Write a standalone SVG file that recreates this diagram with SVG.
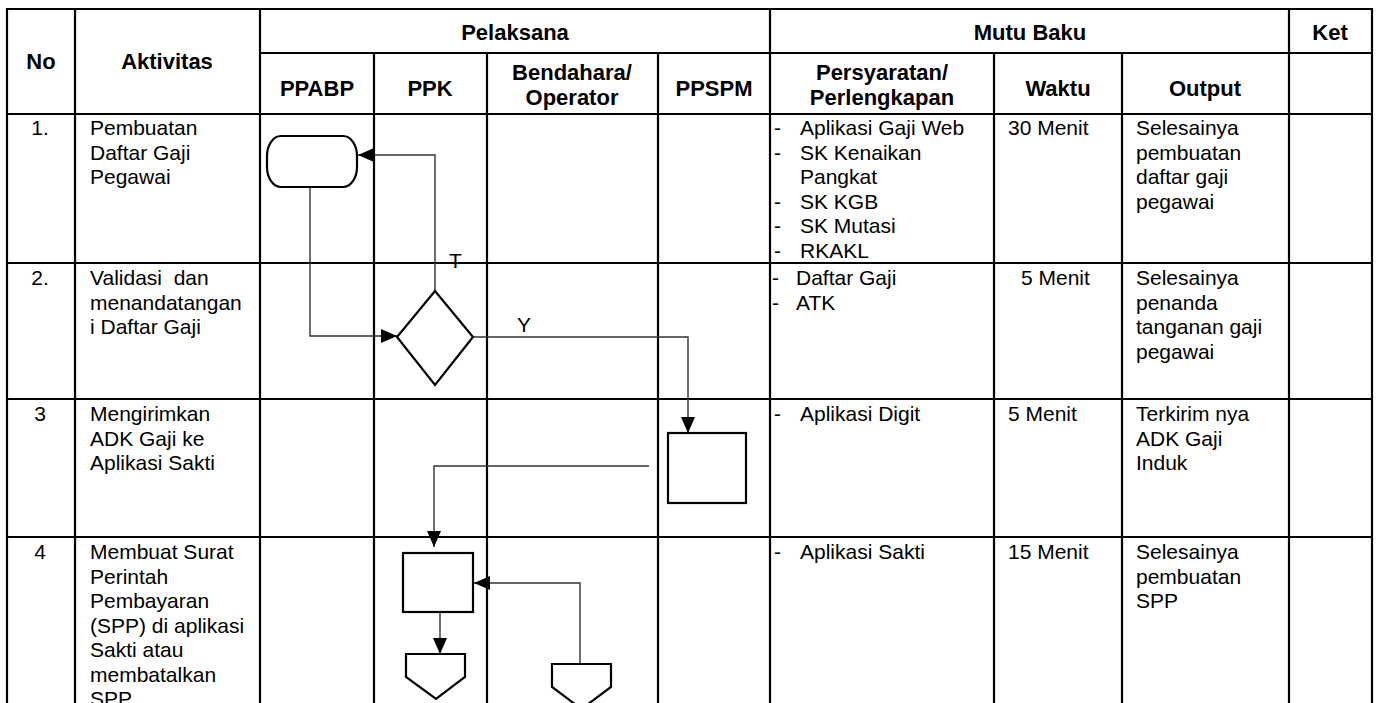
<svg xmlns="http://www.w3.org/2000/svg" width="1378" height="703" viewBox="0 0 1378 703">
<style>
.grid line{stroke:#000;stroke-width:2.2}
text{font-family:"Liberation Sans",Arial,sans-serif;fill:#000}
.h{font-size:22px;font-weight:bold;text-anchor:middle}
.b{font-size:21px}
.c{text-anchor:middle}
.shape{fill:#fff;stroke:#000;stroke-width:2.2}
.con{fill:none;stroke:#333;stroke-width:1.4}
.lbl{font-size:21px}
</style>
<defs>
<marker id="arr" markerUnits="userSpaceOnUse" markerWidth="17" markerHeight="15" refX="16" refY="7" orient="auto">
<path d="M0,0 L16,7 L0,14 z" fill="#000"/>
</marker>
</defs>
<rect width="1378" height="703" fill="#fff"/>
<g id="table" class="grid">
<line x1="6" y1="9" x2="1373" y2="9"/>
<line x1="260" y1="53" x2="1373" y2="53"/>
<line x1="6" y1="114" x2="1373" y2="114"/>
<line x1="6" y1="263" x2="1373" y2="263"/>
<line x1="6" y1="399" x2="1373" y2="399"/>
<line x1="6" y1="537" x2="1373" y2="537"/>
<line x1="7" y1="8" x2="7" y2="703"/>
<line x1="75" y1="8" x2="75" y2="703"/>
<line x1="260" y1="8" x2="260" y2="703"/>
<line x1="374" y1="53" x2="374" y2="703"/>
<line x1="487" y1="53" x2="487" y2="703"/>
<line x1="658" y1="53" x2="658" y2="703"/>
<line x1="770" y1="8" x2="770" y2="703"/>
<line x1="994" y1="53" x2="994" y2="703"/>
<line x1="1122" y1="53" x2="1122" y2="703"/>
<line x1="1289" y1="8" x2="1289" y2="703"/>
<line x1="1372" y1="8" x2="1372" y2="703"/>
</g>
<g id="header">
<text class="h" x="41" y="69">No</text>
<text class="h" x="167" y="69">Aktivitas</text>
<text class="h" x="515" y="40">Pelaksana</text>
<text class="h" x="1030" y="40">Mutu Baku</text>
<text class="h" x="1330" y="40">Ket</text>
<text class="h" x="317" y="96">PPABP</text>
<text class="h" x="430" y="96">PPK</text>
<text class="h" x="572" y="80">Bendahara/</text>
<text class="h" x="572" y="105">Operator</text>
<text class="h" x="714" y="96">PPSPM</text>
<text class="h" x="882" y="80">Persyaratan/</text>
<text class="h" x="882" y="105">Perlengkapan</text>
<text class="h" x="1058" y="96">Waktu</text>
<text class="h" x="1205" y="96">Output</text>
</g>
<g id="row1" class="b">
<text class="c" x="40" y="135">1.</text>
<text x="90" y="135">Pembuatan</text>
<text x="90" y="159.5">Daftar Gaji</text>
<text x="90" y="184">Pegawai</text>
<text x="774" y="135">-</text>
<text x="800" y="135">Aplikasi Gaji Web</text>
<text x="774" y="159.5">-</text>
<text x="800" y="159.5">SK Kenaikan</text>
<text x="800" y="184">Pangkat</text>
<text x="774" y="208.5">-</text>
<text x="800" y="208.5">SK KGB</text>
<text x="774" y="233">-</text>
<text x="800" y="233">SK Mutasi</text>
<text x="774" y="257.5">-</text>
<text x="800" y="257.5">RKAKL</text>
<text x="1008" y="135">30 Menit</text>
<text x="1136" y="135">Selesainya</text>
<text x="1136" y="159.5">pembuatan</text>
<text x="1136" y="184">daftar gaji</text>
<text x="1136" y="208.5">pegawai</text>
</g>
<g id="row2" class="b">
<text class="c" x="40" y="285">2.</text>
<text x="90" y="285" xml:space="preserve">Validasi  dan</text>
<text x="90" y="309.5">menandatangan</text>
<text x="90" y="334">i Daftar Gaji</text>
<text x="772" y="285">-</text>
<text x="796" y="285">Daftar Gaji</text>
<text x="772" y="309.5">-</text>
<text x="796" y="309.5">ATK</text>
<text x="1021" y="285">5 Menit</text>
<text x="1136" y="285">Selesainya</text>
<text x="1136" y="309.5">penanda</text>
<text x="1136" y="334">tanganan gaji</text>
<text x="1136" y="358.5">pegawai</text>
</g>
<g id="row3" class="b">
<text class="c" x="40" y="421">3</text>
<text x="90" y="421">Mengirimkan</text>
<text x="90" y="445.5">ADK Gaji ke</text>
<text x="90" y="470">Aplikasi Sakti</text>
<text x="774" y="421">-</text>
<text x="800" y="421">Aplikasi Digit</text>
<text x="1008" y="421">5 Menit</text>
<text x="1136" y="421">Terkirim nya</text>
<text x="1136" y="445.5">ADK Gaji</text>
<text x="1136" y="470">Induk</text>
</g>
<g id="row4" class="b">
<text class="c" x="40" y="559">4</text>
<text x="90" y="559">Membuat Surat</text>
<text x="90" y="583.5">Perintah</text>
<text x="90" y="608">Pembayaran</text>
<text x="90" y="632.5">(SPP) di aplikasi</text>
<text x="90" y="657">Sakti atau</text>
<text x="90" y="681.5">membatalkan</text>
<text x="90" y="706">SPP</text>
<text x="774" y="559">-</text>
<text x="800" y="559">Aplikasi Sakti</text>
<text x="1008" y="559">15 Menit</text>
<text x="1136" y="559">Selesainya</text>
<text x="1136" y="583.5">pembuatan</text>
<text x="1136" y="608">SPP</text>
</g>
<g id="connectors">
<path class="con" d="M310,187 V336 H397" marker-end="url(#arr)"/>
<path class="con" d="M435,291 V155 H358" marker-end="url(#arr)"/>
<path class="con" d="M473,337 H688 V433" marker-end="url(#arr)"/>
<path class="con" d="M649,466 H434 V547" marker-end="url(#arr)"/>
<path class="con" d="M440,612 V654" marker-end="url(#arr)"/>
<path class="con" d="M580,664 V583 H474" marker-end="url(#arr)"/>
<text class="lbl" x="449" y="268">T</text>
<text class="lbl" x="517" y="332">Y</text>
</g>
<g id="n_start"><rect class="shape" x="267" y="136" width="90" height="51" rx="14" ry="20"/></g>
<g id="n_decision"><polygon class="shape" points="435,291 473,337 435,385 397,337"/></g>
<g id="n_ppspm"><rect class="shape" x="668" y="433" width="78" height="70"/></g>
<g id="n_ppk"><rect class="shape" x="403" y="553" width="70" height="59"/></g>
<g id="n_off1"><polygon class="shape" points="406,654 465,654 465,677 436,699 406,677"/></g>
<g id="n_off2"><polygon class="shape" points="552,664 611,664 611,687 581.5,709 552,687"/></g>
</svg>
